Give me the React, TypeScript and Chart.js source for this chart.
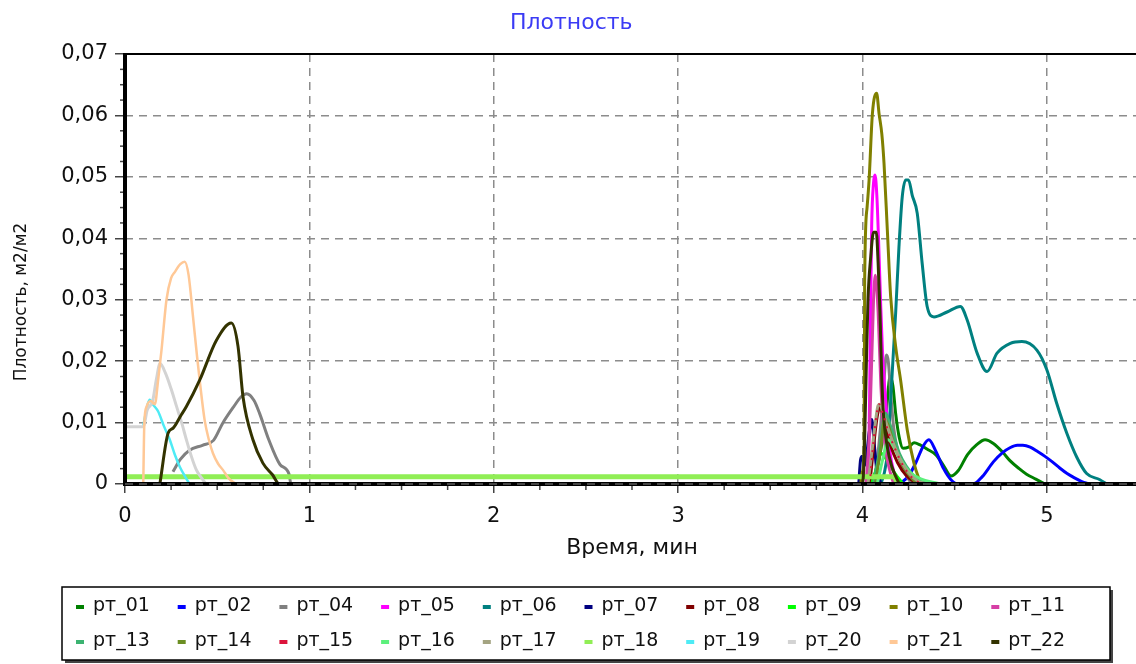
import React, { useEffect, useRef } from "react";
import { Chart, registerables } from "chart.js";

Chart.register(...registerables);

// ---------- data (time in minutes, density m2/m2) ----------
const t01 = [4.05, 4.09, 4.13, 4.15, 4.165, 4.18, 4.2, 4.22, 4.25, 4.28, 4.31, 4.35, 4.4, 4.44, 4.48, 4.52, 4.57, 4.62, 4.665, 4.71, 4.76, 4.8, 4.85, 4.89, 4.94, 4.99];
const v01 = [0, 0.004, 0.012, 0.0175, 0.016, 0.0115, 0.0075, 0.0058, 0.006, 0.0067, 0.0064, 0.0057, 0.0047, 0.003, 0.0013, 0.0022, 0.0048, 0.0064, 0.0072, 0.0066, 0.0052, 0.0038, 0.0025, 0.0016, 0.0008, 0];

const t02 = [4.2, 4.25, 4.29, 4.33, 4.36, 4.4, 4.44, 4.48, 4.52, 4.6, 4.65, 4.71, 4.76, 4.8, 4.84, 4.87, 4.91, 4.95, 4.99, 5.03, 5.07, 5.11, 5.15, 5.19, 5.23];
const v02 = [0, 0.0013, 0.0035, 0.0062, 0.0072, 0.0052, 0.0025, 0.0007, 0, 0, 0.0012, 0.0036, 0.0051, 0.0059, 0.0063, 0.0063, 0.006, 0.0053, 0.0045, 0.0036, 0.0026, 0.0017, 0.001, 0.0004, 0];

const t04 = [0.26, 0.3, 0.35, 0.42, 0.48, 0.53, 0.59, 0.63, 0.66, 0.7, 0.73, 0.78, 0.84, 0.89, 0.9, 4.05, 4.08, 4.1, 4.115, 4.13, 4.14, 4.155, 4.17, 4.19, 4.22, 4.25, 4.27];
const v04 = [0.002, 0.004, 0.0055, 0.0063, 0.0071, 0.0099, 0.0126, 0.0142, 0.0147, 0.0136, 0.0115, 0.0072, 0.0032, 0.0016, 0, 0, 0.004, 0.01, 0.016, 0.021, 0.02, 0.014, 0.009, 0.0055, 0.0025, 0.0008, 0];

const t05 = [4.02, 4.03, 4.036, 4.04, 4.045, 4.05, 4.06, 4.068, 4.078, 4.087, 4.098, 4.108, 4.12, 4.135, 4.15, 4.17, 4.19];
const v05 = [0, 0.003, 0.008, 0.017, 0.03, 0.042, 0.049, 0.0503, 0.047, 0.04, 0.03, 0.022, 0.016, 0.01, 0.005, 0.002, 0];

const t06 = [4.1, 4.12, 4.135, 4.15, 4.165, 4.18, 4.198, 4.216, 4.235, 4.25, 4.27, 4.297, 4.324, 4.351, 4.388, 4.459, 4.531, 4.568, 4.622, 4.676, 4.73, 4.802, 4.865, 4.946, 5.0, 5.054, 5.108, 5.162, 5.216, 5.288, 5.324];
const v06 = [0, 0.002, 0.005, 0.012, 0.02, 0.0278, 0.0386, 0.0468, 0.0495, 0.0495, 0.047, 0.0441, 0.0359, 0.0289, 0.0272, 0.028, 0.0289, 0.0267, 0.0213, 0.0183, 0.0213, 0.0229, 0.0232, 0.0218, 0.0186, 0.0131, 0.0083, 0.0044, 0.0017, 0.0007, 0];

const t07 = [3.98, 3.99, 4.0, 4.01, 4.02, 4.035, 4.05, 4.06, 4.075, 4.09, 4.1];
const v07 = [0, 0.004, 0.0045, 0.003, 0.004, 0.008, 0.0105, 0.008, 0.003, 0.001, 0];

const t08 = [4.04, 4.06, 4.08, 4.095, 4.12, 4.15, 4.19, 4.24, 4.3];
const v08 = [0, 0.006, 0.011, 0.0125, 0.01, 0.0065, 0.0035, 0.0013, 0];

const t09 = [4.05, 4.08, 4.1, 4.13, 4.17, 4.22];
const v09 = [0, 0.003, 0.005, 0.004, 0.002, 0];

const t10 = [3.99, 4.0, 4.009, 4.012, 4.025, 4.036, 4.054, 4.077, 4.09, 4.105, 4.117, 4.135, 4.153, 4.18, 4.207, 4.243, 4.28, 4.306, 4.32];
const v10 = [0, 0.002, 0.006, 0.033, 0.045, 0.0495, 0.0603, 0.0636, 0.0603, 0.057, 0.0522, 0.0413, 0.0305, 0.0224, 0.0169, 0.0088, 0.0033, 0.0009, 0];

const t11 = [4.02, 4.04, 4.06, 4.07, 4.085, 4.1, 4.12, 4.15, 4.17];
const v11 = [0, 0.01, 0.03, 0.034, 0.028, 0.016, 0.007, 0.002, 0];

const t13 = [4.06, 4.09, 4.11, 4.125, 4.14, 4.17, 4.2, 4.24, 4.28, 4.33, 4.37];
const v13 = [0, 0.005, 0.0095, 0.0115, 0.0105, 0.0078, 0.005, 0.0028, 0.0013, 0.0004, 0];

const t14 = [4.07, 4.1, 4.12, 4.14, 4.17, 4.21, 4.26, 4.3];
const v14 = [0, 0.006, 0.0105, 0.0095, 0.0065, 0.0035, 0.0012, 0];

const t15 = [4.04, 4.06, 4.08, 4.09, 4.11, 4.14, 4.18, 4.22, 4.27, 4.32];
const v15 = [0, 0.007, 0.012, 0.013, 0.0115, 0.0085, 0.0055, 0.003, 0.001, 0];

const t16 = [4.08, 4.11, 4.14, 4.17, 4.21, 4.26, 4.32, 4.38, 4.43];
const v16 = [0, 0.004, 0.0072, 0.006, 0.0038, 0.0018, 0.0008, 0.0003, 0];

const t17 = [4.03, 4.05, 4.07, 4.085, 4.095, 4.11, 4.13, 4.16, 4.19, 4.22, 4.26, 4.3, 4.35];
const v17 = [0, 0.005, 0.01, 0.0128, 0.013, 0.0118, 0.0098, 0.0072, 0.005, 0.0032, 0.0015, 0.0005, 0];

const t18 = [0, 4.17, 4.19];
const v18 = [0.0012, 0.0012, 0];

const t19 = [0.1, 0.105, 0.135, 0.15, 0.18, 0.21, 0.243, 0.27, 0.297, 0.33, 0.35];
const v19 = [0.0095, 0.0104, 0.0137, 0.013, 0.0118, 0.0095, 0.0072, 0.0048, 0.0028, 0.001, 0];

const t20 = [0, 0.1, 0.12, 0.15, 0.17, 0.19, 0.22, 0.25, 0.28, 0.31, 0.333, 0.36, 0.387, 0.42, 0.44];
const v20 = [0.0093, 0.0093, 0.012, 0.0135, 0.017, 0.0196, 0.018, 0.0155, 0.0126, 0.0097, 0.0072, 0.0045, 0.0023, 0.0008, 0];

const t21 = [0.099, 0.105, 0.117, 0.14, 0.162, 0.18, 0.198, 0.225, 0.25, 0.27, 0.3, 0.324, 0.345, 0.369, 0.39, 0.405, 0.432, 0.455, 0.477, 0.505, 0.531, 0.56, 0.6];
const v21 = [0, 0.01, 0.0126, 0.0135, 0.013, 0.017, 0.0218, 0.03, 0.0335, 0.0345, 0.0358, 0.0362, 0.034, 0.0272, 0.021, 0.0169, 0.0104, 0.0072, 0.005, 0.0033, 0.0023, 0.001, 0];

const t22 = [0.189, 0.234, 0.261, 0.3, 0.333, 0.405, 0.496, 0.577, 0.613, 0.64, 0.694, 0.748, 0.8, 0.838, 4.0, 4.01, 4.02, 4.03, 4.045, 4.06, 4.075, 4.085, 4.095, 4.105, 4.115, 4.135, 4.16, 4.2];
const v22 = [0, 0.0083, 0.0091, 0.011, 0.0126, 0.0169, 0.0234, 0.0262, 0.0224, 0.0142, 0.0072, 0.0034, 0.0015, 0, 0, 0.005, 0.018, 0.03, 0.037, 0.041, 0.041, 0.036, 0.028, 0.017, 0.011, 0.006, 0.0028, 0];

const seriesLabels = ["рт_01", "рт_02", "рт_04", "рт_05", "рт_06", "рт_07", "рт_08", "рт_09", "рт_10", "рт_11", "рт_13", "рт_14", "рт_15", "рт_16", "рт_17", "рт_18", "рт_19", "рт_20", "рт_21", "рт_22"];
const seriesTimes = [t01, t02, t04, t05, t06, t07, t08, t09, t10, t11, t13, t14, t15, t16, t17, t18, t19, t20, t21, t22];
const seriesValues = [v01, v02, v04, v05, v06, v07, v08, v09, v10, v11, v13, v14, v15, v16, v17, v18, v19, v20, v21, v22];

const xTickLabels = ["0", "1", "2", "3", "4", "5"];
const yTickLabels = ["0", "0,01", "0,02", "0,03", "0,04", "0,05", "0,06", "0,07"];
const yAxisTitle = "Плотность, м2/м2";

// ---------- styles ----------
const seriesColors = ["#008000", "#0000FF", "#808080", "#FF00FF", "#008080", "#000080", "#800000", "#00FF00", "#808000", "#D63FA5", "#3CB371", "#6B8E23", "#DC143C", "#5CF07C", "#A4A482", "#90EE55", "#4EEBF5", "#D3D3D3", "#FFC896", "#333300"];
const seriesWidths = [3, 3, 3, 3, 3, 3, 3, 3, 3, 3, 3, 3, 2, 3, 3, 5, 2.5, 3, 2.5, 3];

const FONT = "'DejaVu Sans', sans-serif";

const framePlugin = {
  id: "frame",
  afterDatasetsDraw(chart: any) {
    const { ctx, chartArea, scales } = chart;
    const { left, right, top, bottom } = chartArea;
    const x = scales.x;
    const y = scales.y;
    ctx.save();
    ctx.strokeStyle = "#444";
    ctx.lineWidth = 1.5;
    for (let k = 1; k < 28; k++) {
      if (k % 4 === 0) continue;
      const py = y.getPixelForValue(k * 0.0025);
      ctx.beginPath();
      ctx.moveTo(left - 5, py);
      ctx.lineTo(left, py);
      ctx.stroke();
    }
    for (let k = 1; k < 22; k++) {
      if (k % 4 === 0) continue;
      const px = x.getPixelForValue(k * 0.25);
      ctx.beginPath();
      ctx.moveTo(px, bottom);
      ctx.lineTo(px, bottom + 6);
      ctx.stroke();
    }
    ctx.strokeStyle = "#000";
    ctx.lineWidth = 2;
    ctx.beginPath();
    ctx.moveTo(left, top);
    ctx.lineTo(right, top);
    ctx.stroke();
    ctx.lineWidth = 4;
    ctx.beginPath();
    ctx.moveTo(left, top - 1);
    ctx.lineTo(left, bottom + 2);
    ctx.stroke();
    ctx.beginPath();
    ctx.moveTo(left - 2, bottom);
    ctx.lineTo(right, bottom);
    ctx.stroke();
    ctx.setLineDash([8, 6]);
    ctx.strokeStyle = "#8a8a8a";
    ctx.lineWidth = 1;
    ctx.beginPath();
    ctx.moveTo(left, bottom);
    ctx.lineTo(right, bottom);
    ctx.stroke();
    ctx.restore();

    // rotated y-axis title (placed a little below the plot's middle, as in the reference)
    ctx.save();
    ctx.translate(22, (top + bottom) / 2 + 33);
    ctx.rotate(-Math.PI / 2);
    ctx.font = `17px ${FONT}`;
    ctx.fillStyle = "#111";
    ctx.textAlign = "center";
    ctx.textBaseline = "middle";
    ctx.fillText(yAxisTitle, 0, 0);
    ctx.restore();
  },
};

const boxLegendPlugin = {
  id: "boxLegend",
  afterDraw(chart: any, _args: any, opts: any) {
    const { ctx } = chart;
    const { left, top, right, bottom, startX, rowY, colW, perRow, fontSize } = opts;
    ctx.save();
    ctx.fillStyle = "#444";
    ctx.fillRect(left + 3, top + 3, right - left, bottom - top);
    ctx.fillStyle = "#fff";
    ctx.fillRect(left, top, right - left, bottom - top);
    ctx.strokeStyle = "#000";
    ctx.lineWidth = 1.5;
    ctx.strokeRect(left, top, right - left, bottom - top);
    ctx.font = `${fontSize}px ${FONT}`;
    ctx.textBaseline = "middle";
    chart.data.datasets.forEach((ds: any, i: number) => {
      const col = i % perRow;
      const row = Math.floor(i / perRow);
      const x0 = startX + col * colW;
      const y0 = rowY[row];
      ctx.fillStyle = ds.borderColor;
      ctx.fillRect(x0, y0 - 1, 8, 4);
      ctx.fillStyle = "#111";
      ctx.fillText(ds.label, x0 + 17, y0);
    });
    ctx.restore();
  },
};

export default function App() {
  const canvasRef = useRef<HTMLCanvasElement | null>(null);

  useEffect(() => {
    if (!canvasRef.current) return;
    const n = seriesLabels.length;
    const datasets = seriesLabels.map((label, i) => ({
      label,
      data: seriesTimes[i].map((t, j) => ({ x: t, y: seriesValues[i][j] })),
      borderColor: seriesColors[i],
      backgroundColor: seriesColors[i],
      borderWidth: seriesWidths[i],
      borderDash: label === "рт_15" ? [2, 6] : [],
      pointRadius: 0,
      fill: false,
      cubicInterpolationMode: "monotone" as const,
      tension: 0.3,
      order: label === "рт_15" ? n - 14.5 : n + 10 - i,
    }));

    const chart = new Chart(canvasRef.current, {
      type: "line",
      data: { datasets },
      plugins: [framePlugin, boxLegendPlugin],
      options: {
        animation: false,
        responsive: false,
        devicePixelRatio: 1,
        layout: { padding: { left: 0, right: 7.5, top: 0, bottom: 100 } },
        plugins: {
          legend: { display: false },
          tooltip: { enabled: false },
          title: {
            display: true,
            text: "Плотность",
            color: "#3B3BF5",
            font: { family: FONT, size: 22, weight: "normal" },
            padding: { top: 10, bottom: 17.6 },
          },
          boxLegend: {
            left: 62,
            top: 587,
            right: 1110,
            bottom: 660,
            startX: 76,
            rowY: [606, 641],
            colW: 101.7,
            perRow: 10,
            fontSize: 19,
          },
        } as any,
        scales: {
          x: {
            type: "linear",
            min: 0,
            max: 5.5,
            afterFit: (scale: any) => {
              scale.height = 80;
            },
            ticks: {
              stepSize: 1,
              autoSkip: false,
              maxRotation: 0,
              padding: 11,
              color: "#111",
              font: { family: FONT, size: 21 },
              callback: (v: any) => (Number.isInteger(v) ? xTickLabels[v] ?? "" : ""),
            },
            grid: {
              color: "#8c8c8c",
              lineWidth: 1.5,
              tickLength: 9,
              tickColor: "#444",
              tickWidth: 1.5,
            },
            border: { display: false, dash: [8, 6] },
            title: {
              display: true,
              text: "Время, мин",
              color: "#111",
              font: { family: FONT, size: 22 },
              padding: { top: 0, bottom: 2.8 },
            },
          },
          y: {
            type: "linear",
            min: 0,
            max: 0.07,
            afterFit: (scale: any) => {
              scale.width = 125;
            },
            ticks: {
              stepSize: 0.01,
              autoSkip: false,
              padding: 7,
              color: "#111",
              font: { family: FONT, size: 21 },
              callback: (v: any) => yTickLabels[Math.round(v / 0.01)] ?? "",
            },
            grid: {
              color: "#8c8c8c",
              lineWidth: 1.5,
              tickLength: 10,
              tickColor: "#444",
              tickWidth: 1.5,
            },
            border: { display: false, dash: [8, 6] },
            title: { display: false },
          },
        },
      },
    });
    return () => chart.destroy();
  }, []);

  return (
    <div style={{ position: "fixed", left: 0, top: 0, width: 1136, height: 664, overflow: "hidden", background: "#fff" }}>
      <canvas ref={canvasRef} width={1150} height={664} style={{ width: 1150, height: 664, display: "block" }} />
    </div>
  );
}
